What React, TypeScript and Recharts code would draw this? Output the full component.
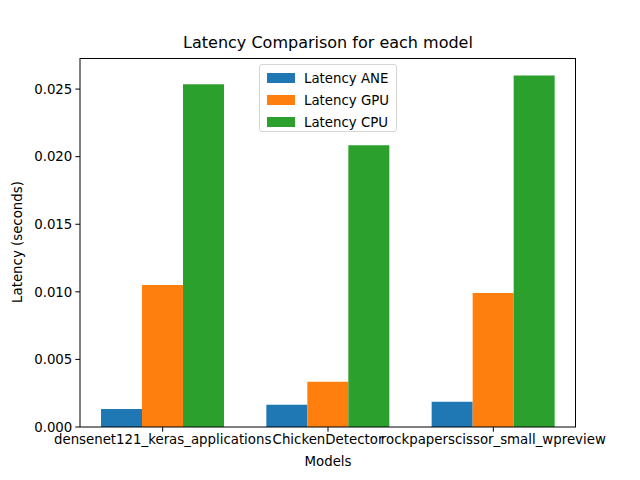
import { BarChart, Bar, XAxis, YAxis } from "recharts";

const MODELS = ["densenet121_keras_applications", "ChickenDetector", "rockpaperscissor_small_wpreview"];
const LATENCY_ANE = [0.00134, 0.00164, 0.00186];
const LATENCY_GPU = [0.0105, 0.00334, 0.00991];
const LATENCY_CPU = [0.02535, 0.02084, 0.026];
const Y_TICKS = [0, 0.005, 0.01, 0.015, 0.02, 0.025];

const SERIES = [
  { key: "ane", name: "Latency ANE", color: "#1f77b4" },
  { key: "gpu", name: "Latency GPU", color: "#ff7f0e" },
  { key: "cpu", name: "Latency CPU", color: "#2ca02c" },
];

const data = MODELS.map((m, i) => ({
  model: m,
  ane: LATENCY_ANE[i],
  gpu: LATENCY_GPU[i],
  cpu: LATENCY_CPU[i],
}));

const font = "'DejaVu Sans', sans-serif";
const tickStyle = { fill: "#000", fontSize: 13.33, fontFamily: font };

function LegendBox() {
  return (
    <div
      style={{
        position: "absolute",
        left: 259,
        top: 64,
        width: 138,
        height: 68,
        boxSizing: "border-box",
        border: "1px solid #d6d6d6",
        borderRadius: 3,
        background: "rgba(255,255,255,0.8)",
        fontFamily: font,
        fontSize: 13.33,
        color: "#000",
      }}
    >
      {SERIES.map((s, i) => (
        <div
          key={s.key}
          style={{ position: "absolute", left: 7, top: 5 + i * 22, display: "flex", alignItems: "center", height: 16 }}
        >
          <div style={{ width: 28, height: 10, background: s.color, marginRight: 9 }} />
          <span>{s.name}</span>
        </div>
      ))}
    </div>
  );
}

export default function App() {
  return (
    <div style={{ position: "absolute", left: 0, top: 0, width: 640, height: 480, background: "#fff" }}>
      <div
        style={{
          position: "absolute",
          left: 80,
          width: 496,
          top: 33,
          textAlign: "center",
          fontFamily: font,
          fontSize: 16,
          color: "#000",
        }}
      >
        Latency Comparison for each model
      </div>
      <div
        style={{
          position: "absolute",
          left: 80,
          width: 496,
          top: 454,
          textAlign: "center",
          fontFamily: font,
          fontSize: 13.33,
          color: "#000",
        }}
      >
        Models
      </div>
      <div
        style={{
          position: "absolute",
          left: 17,
          top: 242,
          transform: "translate(-50%, -50%) rotate(-90deg)",
          whiteSpace: "nowrap",
          fontFamily: font,
          fontSize: 13.33,
          color: "#000",
        }}
      >
        Latency (seconds)
      </div>
      <BarChart
        width={640}
        height={480}
        data={data}
        margin={{ top: 58, right: 64, left: 0, bottom: 0 }}
        barCategoryGap={21}
        barGap={0}
      >
        <XAxis
          dataKey="model"
          height={53}
          interval={0}
          tick={tickStyle}
          tickSize={4.67}
          tickMargin={3}
          stroke="#000"
        />
        <YAxis
          width={80}
          domain={[0, 0.0273]}
          ticks={Y_TICKS}
          tickFormatter={(v: number) => v.toFixed(3)}
          tick={tickStyle}
          tickSize={4.67}
          tickMargin={3}
          stroke="#000"
          allowDataOverflow
        />
        {SERIES.map((s) => (
          <Bar key={s.key} dataKey={s.key} name={s.name} fill={s.color} isAnimationActive={false} />
        ))}
      </BarChart>
      <div
        style={{
          position: "absolute",
          left: 80,
          top: 58,
          width: 496,
          height: 369,
          boxSizing: "border-box",
          borderTop: "1px solid #000",
          borderRight: "1px solid #000",
          pointerEvents: "none",
        }}
      />
      <LegendBox />
    </div>
  );
}
